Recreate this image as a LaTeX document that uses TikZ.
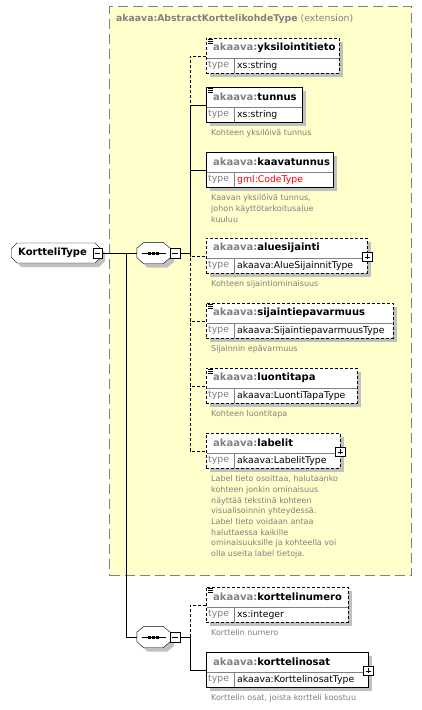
\documentclass[tikz,border=0pt]{standalone}
\usepackage{fontspec}
\setmainfont{DejaVu Sans}
\usepackage{tikz}
\usetikzlibrary{positioning, calc, shapes.misc, shadows}

\definecolor{xsdyellow}{RGB}{255,255,204}
\definecolor{xsdgray}{RGB}{128,128,128}
\definecolor{xsdshade}{RGB}{192,192,192}

\begin{document}
\begin{tikzpicture}[x=1pt, y=-1pt, font=\fontsize{9.3}{11}\selectfont,
  xsdshadow/.style={general shadow={fill=xsdshade, shadow xshift=4pt, shadow yshift=-4pt}},
  extbox/.style={draw=xsdgray, fill=xsdyellow, line width=1.2pt, dash pattern=on 10pt off 5pt, inner sep=0pt, anchor=north west},
  elem/.style={draw, fill=white, anchor=north west, inner sep=0pt, minimum height=35pt, xsdshadow},
  opt/.style={dash pattern=on 3pt off 2pt},
  req/.style={solid},
  lbl/.style={anchor=west, inner sep=0pt},
  doc/.style={anchor=north west, inner sep=0pt, align=left, text=xsdgray, font=\fontsize{8}{10.7}\selectfont},
  minusbox/.style={draw, fill=white, inner sep=0pt, minimum size=9.5pt,
    path picture={\draw ([xshift=2pt]path picture bounding box.west) -- ([xshift=-2pt]path picture bounding box.east);}},
  plusbox/.style={draw, fill=white, inner sep=0pt, minimum size=9.5pt,
    path picture={\draw ([xshift=2pt]path picture bounding box.west) -- ([xshift=-2pt]path picture bounding box.east);
      \draw ([yshift=-2pt]path picture bounding box.north) -- ([yshift=2pt]path picture bounding box.south);}},
  seqbox/.style={inner sep=0pt, minimum width=33pt, minimum height=21pt},
  ktbox/.style={chamfered rectangle, chamfered rectangle xsep=3pt, chamfered rectangle ysep=3pt, draw, fill=white, minimum height=20pt, text width=76pt, align=left, inner xsep=4pt, inner ysep=0pt, font=\bfseries, xsdshadow}]
  \useasboundingbox (0,0) rectangle (422,710);

  % extension area
  \node[extbox, minimum width=302pt, minimum height=569pt] (ext) at (109,6) {};
  \node[lbl, text=xsdgray] (exthead) at (116,19) {\textbf{akaava:AbstractKorttelikohdeType} (extension)};

  \node[ktbox, anchor=west] (kt) at (11,253) {KortteliType};
  \node[minusbox, anchor=east] (ktm) at ([xshift=1pt]kt.east) {};
  \node[seqbox] (seqA) at (153.5,253) {};
  \node[seqbox] (seqB) at (153.5,637) {};
  % sequence octagons
  \foreach \s in {seqA,seqB}{
    \filldraw[fill=white, xsdshadow] ([xshift=7pt]\s.north west) -- ([xshift=-7pt]\s.north east)
      -- ([yshift=-6pt]\s.north east) -- ([yshift=6pt]\s.south east)
      -- ([xshift=-7pt]\s.south east) -- ([xshift=7pt]\s.south west)
      -- ([yshift=6pt]\s.south west) -- ([yshift=-6pt]\s.north west) -- cycle;
    \draw ([xshift=-12pt]\s.center) -- ([xshift=12pt]\s.center);
    \foreach \d in {-4,0,4}
      \fill ([xshift=\d pt]\s.center) +(-1.5,-1.5) rectangle +(1.5,1.5);
  }
  \node[minusbox, right=0pt of seqA] (seqAm) {};
  \node[minusbox, right=0pt of seqB] (seqBm) {};

  % elements: index/top/width/name/type/style/icon/plus
  \foreach \n/\y/\w/\nm/\tp/\st/\ic/\pl in {
    1/38/133/yksilointitieto/xs:string/opt/1/0,
    2/87/96/tunnus/xs:string/req/1/0,
    3/152/127/kaavatunnus/{\color{red}gml:CodeType}/req/0/0,
    4/238/161/aluesijainti/akaava:AlueSijainnitType/opt/0/1,
    5/303/187/sijaintiepavarmuus/akaava:SijaintiepavarmuusType/opt/1/0,
    6/368/151/luontitapa/akaava:LuontiTapaType/opt/1/0,
    7/433/134/labelit/akaava:LabelitType/opt/0/1,
    8/587/142/korttelinumero/xs:integer/opt/1/0,
    9/652/162/korttelinosat/akaava:KorttelinosatType/req/0/1
  }{
    \node[elem, \st, minimum width=\w pt] (el-\n) at (206,\y) {};
    \draw[xsdgray] ($(el-\n.north west)+(0.5,20)$) -- ($(el-\n.north east)+(-0.5,20)$);
    \draw[xsdgray] ($(el-\n.north west)+(28,20)$) -- ($(el-\n.south west)+(28,-0.5)$);
    \node[lbl, font=\bfseries] (tt-\n) at ($(el-\n.north west)+(7,10)$) {\textcolor{xsdgray}{akaava:}\nm};
    \node[lbl, text=xsdgray] (ty-\n) at ($(el-\n.north west)+(2,27.5)$) {type};
    \node[lbl] (tv-\n) at ($(el-\n.north west)+(31,27.5)$) {\tp};
    \ifnum\ic=1
      \foreach \k in {0,2,4}
        \draw[line width=0.7pt] ($(el-\n.north west)+(2,1.8+\k)$) -- ++(5,0);
    \fi
    \ifnum\pl=1
      \node[plusbox] (pl-\n) at ($(el-\n.east)+(0,1)$) {};
    \fi
  }

  \node[doc] (doc-2) at ($(el-2.south west)+(5,7)$) {Kohteen yksilöivä tunnus};
  \node[doc] (doc-3) at ($(el-3.south west)+(5,7)$) {Kaavan yksilöivä tunnus,\\johon käyttötarkoitusalue\\kuuluu};
  \node[doc] (doc-4) at ($(el-4.south west)+(5,7)$) {Kohteen sijaintiominaisuus};
  \node[doc] (doc-5) at ($(el-5.south west)+(5,7)$) {Sijainnin epävarmuus};
  \node[doc] (doc-6) at ($(el-6.south west)+(5,7)$) {Kohteen luontitapa};
  \node[doc] (doc-7) at ($(el-7.south west)+(5,7)$) {Label tieto osoittaa, halutaanko\\kohteen jonkin ominaisuus\\näyttää tekstinä kohteen\\visualisoinnin yhteydessä.\\Label tieto voidaan antaa\\haluttaessa kaikille\\ominaisuuksille ja kohteella voi\\olla useita label tietoja.};
  \node[doc] (doc-8) at ($(el-8.south west)+(5,7)$) {Korttelin numero};
  \node[doc] (doc-9) at ($(el-9.south west)+(5,7)$) {Korttelin osat, joista kortteli koostuu};

  % connectors
  \draw (ktm.east) -- (seqA.west);
  \path (ktm.east) ++(24,0) coordinate (jn);
  \draw (jn) |- (seqB.west);
  \coordinate (busA) at ([xshift=10pt]seqAm.east);
  \coordinate (busB) at ([xshift=10pt]seqBm.east);
  \draw (seqAm.east) -- (busA);
  \draw (seqBm.east) -- (busB);
  \foreach \n in {1,4,5,6,7}
    \draw[opt] (busA) |- (el-\n.west);
  \foreach \n in {2,3}
    \draw (busA) |- (el-\n.west);
  \draw[opt] (busB) |- (el-8.west);
  \draw (busB) |- (el-9.west);
\end{tikzpicture}
\end{document}
